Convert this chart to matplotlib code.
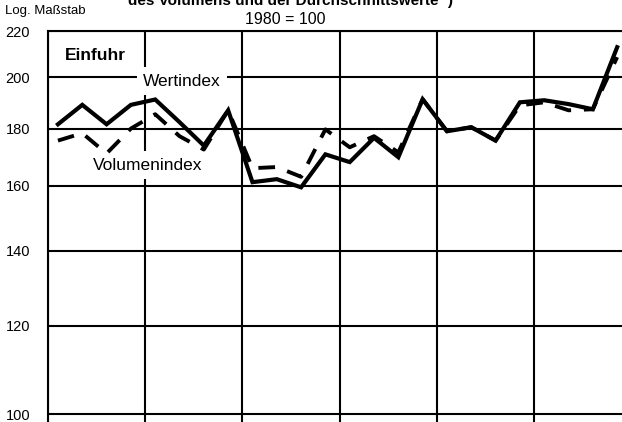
import numpy as np
import matplotlib
matplotlib.use("Agg")
import matplotlib.pyplot as plt

plt.rcParams['font.family'] = ['Liberation Sans', 'DejaVu Sans']

# Quartalswerte, 1980 = 100 (6 Jahre x 4 Quartale)
wertindex = [181.6, 189.0, 181.6, 189.0, 191.1, 182.4, 173.8, 186.9,
             161.2, 162.2, 159.5, 170.7, 168.0, 176.6, 169.7, 191.2,
             179.0, 180.5, 175.6, 190.0, 190.8, 189.3, 187.3, 212.8]
volumenindex = [175.6, 178.3, 171.0, 180.0, 185.4, 177.2, 172.4, 186.9,
                165.9, 166.3, 163.0, 179.7, 173.2, 177.2, 171.4, 191.2,
                179.0, 180.5, 175.6, 188.8, 190.0, 186.9, 187.3, 208.5]
yticks = [100, 120, 140, 160, 180, 200, 220]

quarters = np.arange(len(wertindex)) + 0.42

W, H = 622, 422
def fpos(x, y):
    # pixel (from top-left) -> figure coords
    return x / W, 1 - y / H

fig = plt.figure(figsize=(6.22, 4.22), dpi=100)
ax = fig.add_axes([47.75 / W, -0.0166, 583.5 / W, 0.943])

ax.set_yscale('log')
ax.set_ylim(97, 220)
ax.set_xlim(0, 24)

ax.set_yticks(yticks)
ax.set_yticklabels([str(v) for v in yticks], fontsize=10.5, ha='left')
ax.yaxis.set_minor_locator(matplotlib.ticker.NullLocator())
ax.tick_params(axis='y', length=0, pad=30.5)
ax.set_xticks(np.arange(0, 25, 4))
ax.set_xticklabels([])
ax.tick_params(axis='x', length=0)
ax.grid(True, color='black', linewidth=1.5)
ax.set_axisbelow(True)
for s in ax.spines.values():
    s.set_linewidth(1.5)

ax.plot(quarters, wertindex, color='black', linewidth=3, solid_joinstyle='miter', zorder=4)
ax.plot(quarters, volumenindex, color='black', linewidth=2.8, dashes=(4.3, 3.3),
        dash_capstyle='butt', zorder=4)

box = dict(facecolor='white', edgecolor='none', boxstyle='square,pad=0.35')
ax.text(*fpos(95, 55), 'Einfuhr', transform=fig.transFigure, fontsize=12.5,
        fontweight='bold', ha='center', va='center', bbox=box, zorder=3)
ax.text(*fpos(182, 81), 'Wertindex', transform=fig.transFigure, fontsize=12.5,
        ha='center', va='center', bbox=box, zorder=3)
ax.text(*fpos(148, 165), 'Volumenindex', transform=fig.transFigure, fontsize=12.5,
        ha='center', va='center', bbox=box, zorder=3)

fig.text(*fpos(5, 14), 'Log. Maßstab', fontsize=9.5, ha='left', va='baseline')
fig.text(*fpos(290, 5), 'des Volumens und der Durchschnittswerte \u00b9)',
         fontsize=11, fontweight='bold', ha='center', va='baseline')
fig.text(*fpos(285, 24), '1980 = 100', fontsize=11.5, ha='center', va='baseline')

fig.savefig('out.png', dpi=100)
